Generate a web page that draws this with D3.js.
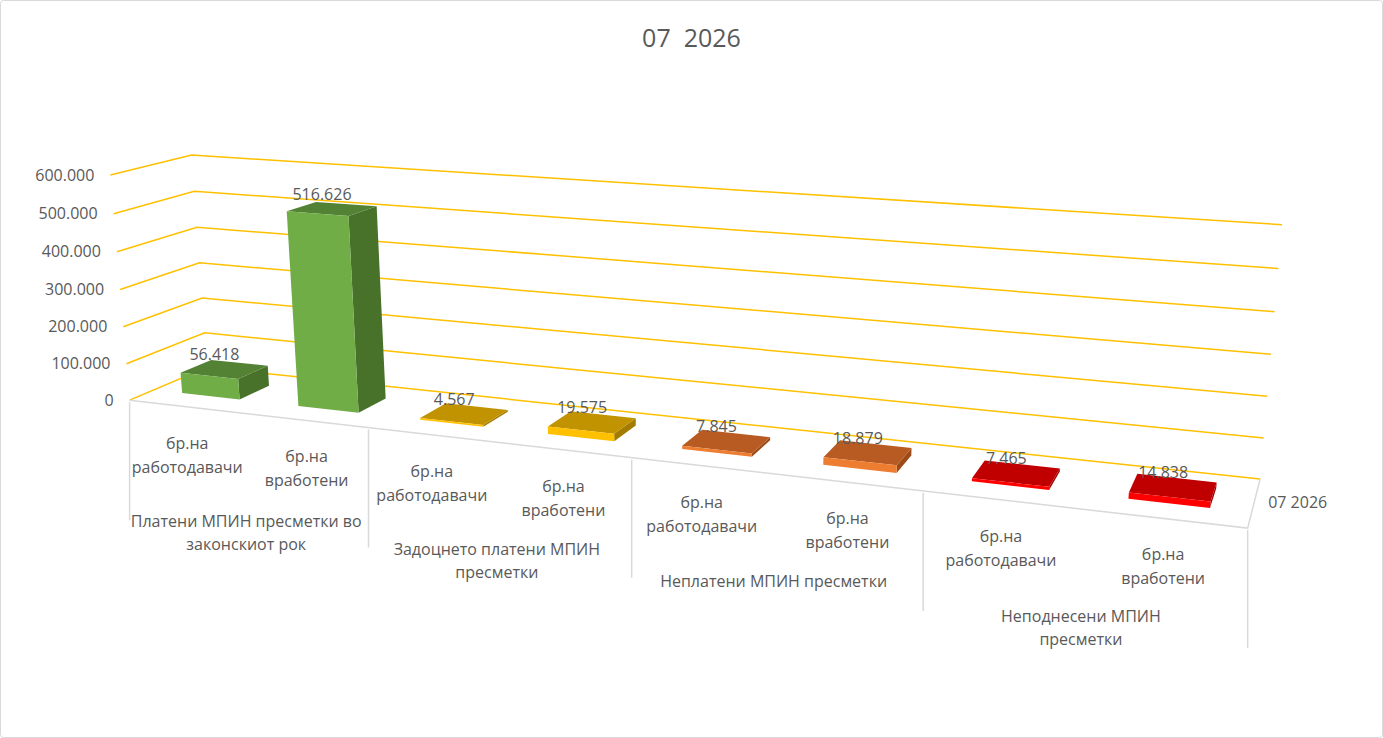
<!DOCTYPE html>
<html>
<head>
<meta charset="utf-8">
<script src="https://cdn.jsdelivr.net/npm/d3@7"></script>
<style>
    body { margin: 0; background: #fff; }
    text { font-family: "Open Sans", "Liberation Sans", sans-serif; fill: #595959; }
</style>
</head>
<body>
<script>
// Chart data
const chartTitle = "07  2026";
const seriesName = "07 2026";
const groupLabels = [
    ["Платени МПИН пресметки во", "законскиот рок"],
    ["Задоцнето платени МПИН", "пресметки"],
    ["Неплатени МПИН пресметки"],
    ["Неподнесени МПИН", "пресметки"]
];
const subLabels = [["бр.на", "работодавачи"], ["бр.на", "вработени"]];
const values = [56418, 516626, 4567, 19575, 7845, 18879, 7465, 14838];
const yTicks = [0, 100000, 200000, 300000, 400000, 500000, 600000];
const groupColors = [
    { front: "#70AD47", top: "#548235", side: "#48712A" },
    { front: "#FFC000", top: "#C29300", side: "#A37B00" },
    { front: "#ED7D31", top: "#B85B22", side: "#9C4A18" },
    { front: "#FF0000", top: "#C00000", side: "#A00000" }
];

const W = 1383, H = 738;

// Plot area frame: box corners [u, v, w] in unit space -> screen position
const frame = [
    [[0, 0, 0], [130, 400]], [[0, 1, 0], [207, 368]],
    [[0, 0, 1], [110, 176]], [[0, 1, 1], [192, 154]],
    [[1, 1, 1], [1282, 225]], [[1, 1, 0], [1260, 479]],
    [[1, 0, 0], [1248, 528]],
    [[0.25, 0, 0], [368, 427]], [[0.5, 0, 0], [632, 457.5]], [[0.75, 0, 0], [923, 491]]
];

// Fit a perspective (projective) map from the box to the screen
function solve(M, b) {
    const n = b.length;
    const A = M.map((r, i) => r.concat([b[i]]));
    for (let c = 0; c < n; c++) {
        let piv = c;
        for (let r = c + 1; r < n; r++) if (Math.abs(A[r][c]) > Math.abs(A[piv][c])) piv = r;
        [A[c], A[piv]] = [A[piv], A[c]];
        for (let r = 0; r < n; r++) {
            if (r === c) continue;
            const f = A[r][c] / A[c][c];
            for (let k = c; k <= n; k++) A[r][k] -= f * A[c][k];
        }
    }
    return A.map((r, i) => r[n] / r[i]);
}

const rows = [], rhs = [];
frame.forEach(([[u, v, w], [x, y]]) => {
    rows.push([u, v, w, 1, 0, 0, 0, 0, -x * u, -x * v, -x * w]); rhs.push(x);
    rows.push([0, 0, 0, 0, u, v, w, 1, -y * u, -y * v, -y * w]); rhs.push(y);
});
const AtA = d3.range(11).map(i => d3.range(11).map(j => d3.sum(rows, r => r[i] * r[j])));
const Atb = d3.range(11).map(i => d3.sum(rows, (r, k) => r[i] * rhs[k]));
const P = solve(AtA, Atb);

function project(u, v, w) {
    const d = P[8] * u + P[9] * v + P[10] * w + 1;
    return [(P[0] * u + P[1] * v + P[2] * w + P[3]) / d,
            (P[4] * u + P[5] * v + P[6] * w + P[7]) / d];
}

// Scales
const xScale = d3.scaleBand().domain(d3.range(values.length)).range([0, 1])
    .paddingInner(0.5).paddingOuter(0.25);
const groupScale = d3.scaleBand().domain(d3.range(groupLabels.length)).range([0, 1]);
const yScale = d3.scaleLinear().domain([0, 600000]).range([0, 1]);
const depth = [0.3, 0.7];

const mk = d3.formatLocale({ decimal: ",", thousands: ".", grouping: [3], currency: ["", ""] });
const fmt = mk.format(",d");

const svg = d3.select("body").append("svg")
    .attr("width", W).attr("height", H);

svg.append("rect")
    .attr("x", 0.5).attr("y", 0.5).attr("width", W - 1).attr("height", H - 1)
    .attr("rx", 3)
    .attr("fill", "#fff").attr("stroke", "#D9D9D9");

svg.append("text")
    .attr("x", W / 2).attr("y", 47)
    .attr("text-anchor", "middle")
    .style("font-size", "25px")
    .style("white-space", "pre")
    .text(chartTitle);

const line = d3.line();

// Gridlines on side and back walls
svg.append("g").selectAll("path")
    .data(yTicks)
    .enter().append("path")
    .attr("d", t => line([project(0, 0, yScale(t)), project(0, 1, yScale(t)), project(1, 1, yScale(t))]))
    .attr("fill", "none")
    .attr("stroke", "#FFC000")
    .attr("stroke-width", 1.5);

// Y axis labels
svg.append("g").selectAll("text")
    .data(yTicks)
    .enter().append("text")
    .attr("x", t => project(0, 0, yScale(t))[0] - 16)
    .attr("y", t => project(0, 0, yScale(t))[1])
    .attr("dy", "0.35em")
    .attr("text-anchor", "end")
    .style("font-size", "16px")
    .text(t => fmt(t));

// Floor edges
svg.append("path")
    .attr("d", line([project(0, 0, 0), project(1, 0, 0), project(1, 1, 0)]))
    .attr("fill", "none")
    .attr("stroke", "#D9D9D9")
    .attr("stroke-width", 1.5);

// Category dividers
svg.append("g").selectAll("line")
    .data(d3.range(groupLabels.length + 1))
    .enter().append("line")
    .attr("x1", k => project(k / groupLabels.length, 0, 0)[0])
    .attr("x2", k => project(k / groupLabels.length, 0, 0)[0])
    .attr("y1", k => project(k / groupLabels.length, 0, 0)[1] + 2)
    .attr("y2", k => project(k / groupLabels.length, 0, 0)[1] + 120)
    .attr("stroke", "#D9D9D9")
    .attr("stroke-width", 1.5);

// Bars
const bars = svg.append("g").selectAll("g")
    .data(values)
    .enter().append("g");

function face(pts) { return line(pts.map(p => project(p[0], p[1], p[2]))) + "Z"; }

bars.each(function (d, i) {
    const g = d3.select(this);
    const u0 = xScale(i), u1 = u0 + xScale.bandwidth();
    const h = yScale(d);
    const [v0, v1] = depth;
    const c = groupColors[Math.floor(i / 2)];
    g.append("path").attr("d", face([[u1, v0, 0], [u1, v1, 0], [u1, v1, h], [u1, v0, h]])).attr("fill", c.side);
    g.append("path").attr("d", face([[u0, v0, h], [u1, v0, h], [u1, v1, h], [u0, v1, h]])).attr("fill", c.top);
    g.append("path").attr("d", face([[u0, v0, 0], [u1, v0, 0], [u1, v0, h], [u0, v0, h]])).attr("fill", c.front);
});

// Data labels
svg.append("g").selectAll("text")
    .data(values)
    .enter().append("text")
    .attr("x", (d, i) => project(xScale(i) + xScale.bandwidth() / 2, (depth[0] + depth[1]) / 2, yScale(d))[0] - 10)
    .attr("y", (d, i) => project(xScale(i) + xScale.bandwidth() / 2, (depth[0] + depth[1]) / 2, yScale(d))[1] - 9)
    .attr("text-anchor", "middle")
    .style("font-size", "16px")
    .text(d => fmt(d));

// Category labels (level 1)
const catG = svg.append("g");
values.forEach((d, i) => {
    const p = project(xScale(i) + xScale.bandwidth() / 2, 0, 0);
    const t = catG.append("text")
        .attr("text-anchor", "middle")
        .style("font-size", "16px");
    subLabels[i % 2].forEach((s, j) => {
        t.append("tspan").attr("x", p[0]).attr("y", p[1] + 42 + 24 * j).text(s);
    });
});

// Group labels (level 2)
groupLabels.forEach((lines, k) => {
    const p = project(groupScale(k) + groupScale.bandwidth() / 2, 0, 0);
    const t = catG.append("text")
        .attr("text-anchor", "middle")
        .style("font-size", "16px");
    lines.forEach((s, j) => {
        t.append("tspan").attr("x", p[0]).attr("y", p[1] + 113 + 23 * j).text(s);
    });
});

// Series (depth axis) label
const sp = project(1, 0.5, 0);
svg.append("text")
    .attr("x", sp[0] + 14)
    .attr("y", sp[1])
    .attr("dy", "0.35em")
    .style("font-size", "16px")
    .text(seriesName);
</script>
</body>
</html>
